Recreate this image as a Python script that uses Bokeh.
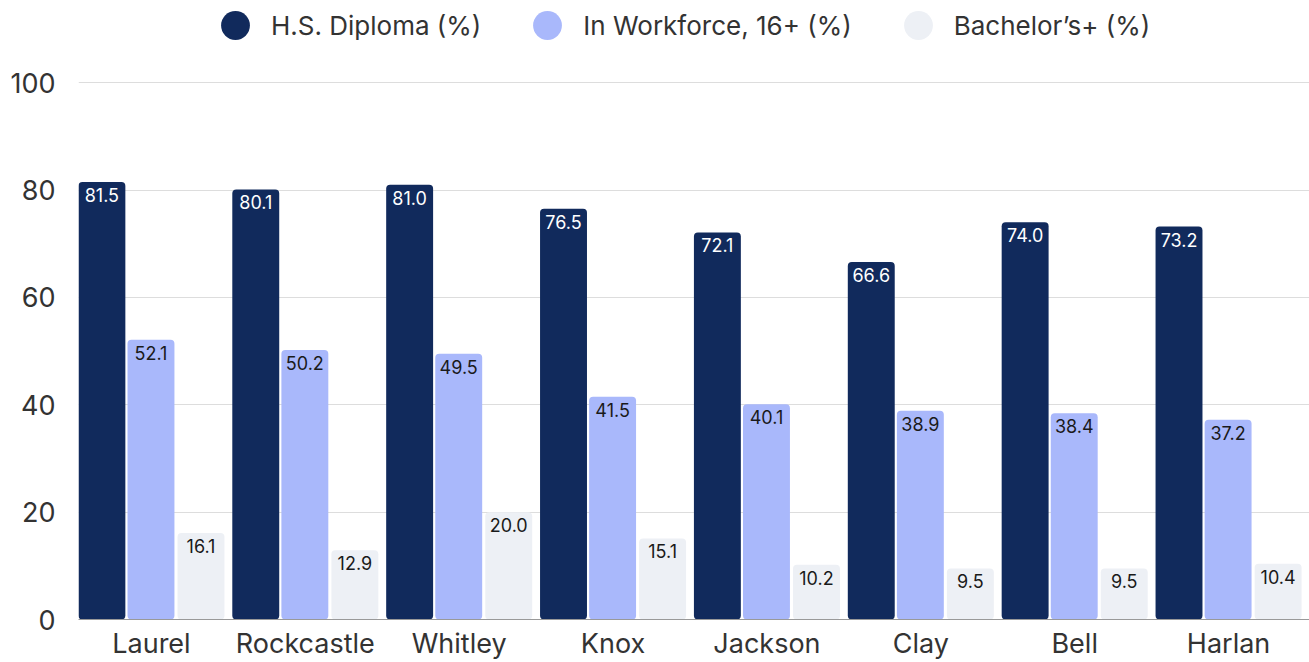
from bokeh.plotting import figure
from bokeh.models import ColumnDataSource, Range1d, FixedTicker, Legend, LegendItem, LabelSet
from bokeh.transform import dodge
from bokeh.core.properties import value
from bokeh.embed import file_html
from bokeh.resources import INLINE

counties = ["Laurel", "Rockcastle", "Whitley", "Knox", "Jackson", "Clay", "Bell", "Harlan"]
hs_diploma = [81.5, 80.1, 81.0, 76.5, 72.1, 66.6, 74.0, 73.2]
workforce = [52.1, 50.2, 49.5, 41.5, 40.1, 38.9, 38.4, 37.2]
bachelors = [16.1, 12.9, 20.0, 15.1, 10.2, 9.5, 9.5, 10.4]
series_names = ["H.S. Diploma (%)", "In Workforce, 16+ (%)", "Bachelor\u2019s+ (%)"]
colors = ["#112a5c", "#a9b8fb", "#edf0f5"]
label_colors = ["#ffffff", "#1a1a1a", "#1a1a1a"]
y_ticks = [0, 20, 40, 60, 80, 100]

FONT = "Inter"

positions = list(range(len(counties)))

src = ColumnDataSource(dict(
    pos=positions,
    county=counties,
    hs=hs_diploma,
    wf=workforce,
    ba=bachelors,
    hs_t=[f"{v:.1f}" for v in hs_diploma],
    wf_t=[f"{v:.1f}" for v in workforce],
    ba_t=[f"{v:.1f}" for v in bachelors],
))

p = figure(
    x_range=Range1d(-0.474, len(counties) - 0.474),
    y_range=Range1d(0, 115.3),
    width=1309, height=662,
    output_backend="svg", toolbar_location=None,
    min_border_left=78, min_border_right=0, min_border_top=0, min_border_bottom=0,
)
p.outline_line_color = None
p.background_fill_color = "#ffffff"

offsets = [-0.322, -0.003, 0.322]
cols = ["hs", "wf", "ba"]
tcols = ["hs_t", "wf_t", "ba_t"]
for off, c, tc, col, lc in zip(offsets, cols, tcols, colors, label_colors):
    p.vbar(x=dodge("pos", off), top=c, width=0.305, source=src,
           fill_color=col, line_color=None, border_radius=4)
    lbl = LabelSet(x=dodge("pos", off), y=c, text=tc, source=src,
                   text_align="center", text_baseline="top", y_offset=-6,
                   text_font=value(FONT), text_font_size="18px", text_color=lc)
    p.add_layout(lbl)

# legend with circle markers (legend-only renderers, point kept below the visible range)
legend_items = []
for name, col in zip(series_names, colors):
    r = p.scatter(x=[positions[0]], y=[-50], marker="circle", size=30, fill_color=col, line_color=None)
    legend_items.append(LegendItem(label=name, renderers=[r]))
leg = Legend(items=legend_items, orientation="horizontal", location=(121, 558),
             border_line_color=None, background_fill_alpha=0,
             label_text_font=FONT, label_text_font_size="26px", label_text_color="#333333",
             glyph_width=72, glyph_height=72, label_standoff=-7, spacing=30,
             padding=0, margin=0)
p.add_layout(leg)

p.yaxis.ticker = FixedTicker(ticks=y_ticks)
p.yaxis.axis_line_color = None
p.yaxis.major_tick_line_color = None
p.yaxis.major_tick_out = 0
p.yaxis.major_tick_in = 0
p.yaxis.minor_tick_line_color = None
p.yaxis.major_label_text_font = FONT
p.yaxis.major_label_text_font_size = "27px"
p.yaxis.major_label_text_color = "#333333"
p.yaxis.major_label_standoff = 23

p.xaxis.ticker = FixedTicker(ticks=positions)
p.xaxis.major_label_overrides = {i: name for i, name in zip(positions, counties)}
p.xaxis.axis_line_color = "#999999"
p.xaxis.axis_line_width = 1
p.xaxis.major_tick_line_color = None
p.xaxis.major_tick_out = 0
p.xaxis.major_tick_in = 0
p.xaxis.minor_tick_line_color = None
p.xaxis.major_label_text_font = FONT
p.xaxis.major_label_text_font_size = "27px"
p.xaxis.major_label_text_color = "#333333"
p.xaxis.major_label_text_line_height = 1.0
p.xaxis.major_label_standoff = 7

p.xgrid.grid_line_color = None
p.ygrid.ticker = FixedTicker(ticks=y_ticks)
p.ygrid.grid_line_color = "#dddddd"
p.ygrid.grid_line_width = 1

open("out.html", "w").write(file_html(p, INLINE))
